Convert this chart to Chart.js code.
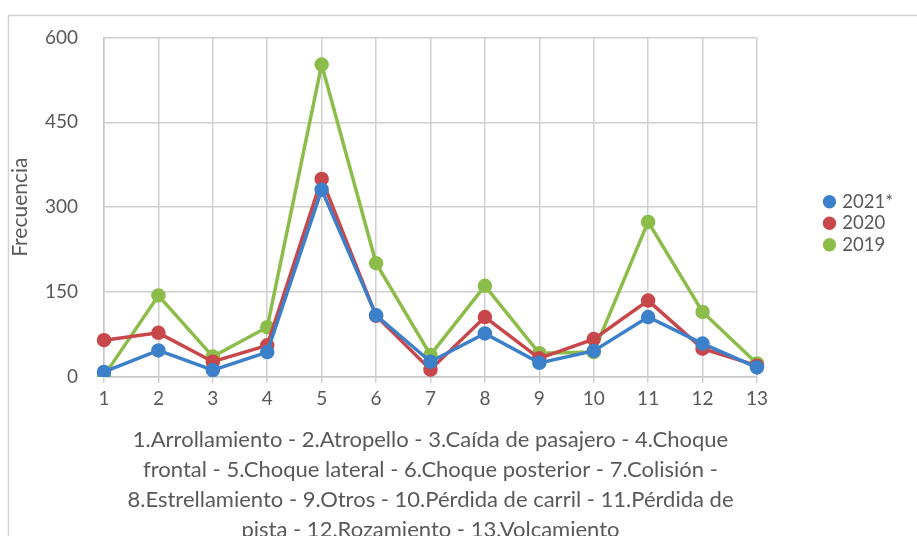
<!DOCTYPE html>
<html>
<head>
<meta charset="utf-8">
<script src="https://cdn.jsdelivr.net/npm/chart.js@4"></script>
<style>
html,body{margin:0;padding:0;background:#fff;overflow:hidden;}
#wrap{position:relative;width:917px;height:545px;}
</style>
</head>
<body>
<div id="wrap"><canvas id="c"></canvas></div>
<script>
const categories = ["1","2","3","4","5","6","7","8","9","10","11","12","13"];
const seriesNames = ["2021*","2020","2019"];
const values2021 = [9, 47, 12, 44, 331, 109, 27, 77, 25, 46, 106, 59, 17];
const values2020 = [65, 78, 27, 56, 350, 108, 13, 106, 33, 67, 135, 50, 20];
const values2019 = [2, 144, 36, 88, 552, 201, 39, 161, 42, 44, 274, 115, 24];
const yTicks = [0, 150, 300, 450, 600];
const xTitleLines = [
  "1.Arrollamiento - 2.Atropello - 3.Caída de pasajero - 4.Choque",
  "frontal - 5.Choque lateral - 6.Choque posterior - 7.Colisión -",
  "8.Estrellamiento - 9.Otros - 10.Pérdida de carril - 11.Pérdida de",
  "pista - 12.Rozamiento - 13.Volcamiento"
];
const yTitle = "Frecuencia";

const colors = ["#3d80ca", "#c8474b", "#8cbd4a"];
const FONT = "Lato, 'Open Sans', sans-serif";
const textColor = "#595959";

const frame = {
  id: 'frame',
  beforeDraw(chart) {
    const ctx = chart.ctx;
    ctx.save();
    ctx.strokeStyle = '#d4d4d4';
    ctx.lineWidth = 1.5;
    ctx.strokeRect(8.5, 15.5, 1200, 1200);
    ctx.restore();
  }
};

const mk = (label, data, color) => ({
  label, data,
  borderColor: color, backgroundColor: color,
  pointBackgroundColor: color, pointBorderColor: color,
  borderWidth: 3.5, pointRadius: 5.5, pointHoverRadius: 5.5,
  tension: 0, yAxisID: 'y'
});

new Chart(document.getElementById('c'), {
  type: 'line',
  data: {
    labels: categories,
    datasets: [
      mk(seriesNames[0], values2021, colors[0]),
      mk(seriesNames[1], values2020, colors[1]),
      mk(seriesNames[2], values2019, colors[2])
    ]
  },
  options: {
    responsive: true,
    maintainAspectRatio: false,
    animation: false,
    layout: { padding: { left: 8, top: 35, right: 14, bottom: 0 } },
    plugins: {
      legend: {
        position: 'right',
        align: 'center',
        fullSize: false,
        title: { display: true, text: ' ', font: { size: 10 }, padding: { top: 10, bottom: 10 } },
        labels: {
          usePointStyle: true, pointStyle: 'circle',
          boxWidth: 7, boxHeight: 7, padding: 3,
          color: textColor,
          font: { family: FONT, size: 18.5 }
        }
      },
      tooltip: { enabled: false }
    },
    scales: {
      x: {
        offset: false,
        afterFit(s) { s.height = 168; },
        grid: { color: '#d0d0d0', lineWidth: 1.5, tickLength: 6, drawTicks: true },
        border: { color: '#c8c8c8', width: 1.5 },
        ticks: { color: textColor, font: { family: FONT, size: 19 }, padding: 4, maxRotation: 0 },
        title: {
          display: true, text: xTitleLines, color: textColor,
          font: { family: FONT, size: 22, lineHeight: 1.37 }, padding: { top: 8, bottom: 0 }
        }
      },
      y: {
        min: 0, max: 600,
        afterFit(s) { s.width = 96; },
        afterBuildTicks(scale) { scale.ticks = yTicks.map(v => ({ value: v })); },
        grid: { color: '#d0d0d0', lineWidth: 1.5, drawTicks: false },
        border: { color: '#c8c8c8', width: 1.5 },
        ticks: { color: textColor, font: { family: FONT, size: 19 }, padding: 26 },
        title: {
          display: true, text: yTitle, color: textColor,
          font: { family: FONT, size: 21 }, padding: { top: 0, bottom: 0 }
        }
      },
      spacer: {
        position: 'right',
        display: true,
        afterFit(s) { s.width = 66; },
        grid: { display: false, drawTicks: false },
        border: { display: false },
        ticks: { display: false },
        title: { display: false }
      }
    }
  },
  plugins: [frame]
});
</script>
</body>
</html>
